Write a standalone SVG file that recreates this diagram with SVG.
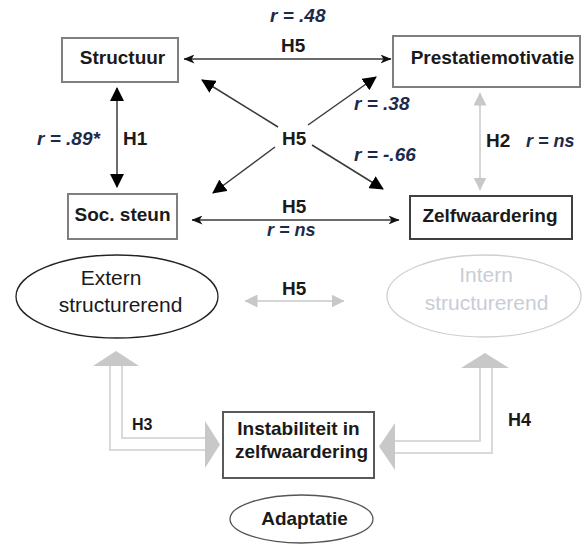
<svg xmlns="http://www.w3.org/2000/svg" width="582" height="544" viewBox="0 0 582 544">
<style>
.lbl{font-family:"Liberation Sans",Arial,sans-serif;font-weight:bold;font-size:19px;fill:#1a1a1a;text-anchor:middle}
.h{font-family:"Liberation Sans",Arial,sans-serif;font-weight:bold;font-size:19px;fill:#1a1a1a}
.r{font-family:"Liberation Sans",Arial,sans-serif;font-weight:bold;font-style:italic;font-size:19px;fill:#1c2a4a}
.reg{font-family:"Liberation Sans",Arial,sans-serif;font-size:21px;text-anchor:middle}
.box{fill:#fff;stroke:#7f7f7f;stroke-width:2}
.ln{stroke:#3a3a3a;stroke-width:1.5;fill:none}
.gln{stroke:#c8c8c8;stroke-width:1.5;fill:none}
.blk{stroke:#d9d9d9;stroke-width:2;fill:none}
.bhd{fill:#c8c8c8}
</style>
<defs>
<marker id="big" viewBox="0 0 14 14" refX="13" refY="7" markerWidth="14" markerHeight="14" orient="auto-start-reverse" markerUnits="userSpaceOnUse"><path d="M0,0 L14,7 L0,14 z" fill="#000"/></marker>
<marker id="sm" viewBox="0 0 11 9" refX="10.5" refY="4.5" markerWidth="11" markerHeight="9" orient="auto-start-reverse" markerUnits="userSpaceOnUse"><path d="M0,0 L11,4.5 L0,9 L3,4.5 z" fill="#111"/></marker>
<marker id="gr" viewBox="0 0 13 13" refX="12.5" refY="6.5" markerWidth="13" markerHeight="13" orient="auto-start-reverse" markerUnits="userSpaceOnUse"><path d="M0,0 L13,6.5 L0,13 z" fill="#c8c8c8"/></marker>
</defs>

<g id="connectors">
<line class="ln" x1="184" y1="59" x2="391" y2="59" marker-start="url(#sm)" marker-end="url(#sm)"/>
<line class="ln" x1="117" y1="88" x2="117" y2="187" marker-start="url(#big)" marker-end="url(#big)"/>
<line class="ln" x1="192" y1="220" x2="399" y2="220" marker-start="url(#sm)" marker-end="url(#sm)"/>
<line class="ln" stroke="#555" x1="278" y1="127" x2="202" y2="80" marker-end="url(#big)"/>
<line class="ln" stroke="#555" x1="275" y1="147" x2="213" y2="193" marker-end="url(#big)"/>
<line class="ln" stroke="#555" x1="308" y1="125" x2="376" y2="77" marker-end="url(#big)"/>
<line class="ln" stroke="#555" x1="312" y1="145" x2="383" y2="189" marker-end="url(#big)"/>
<line class="gln" x1="480" y1="93" x2="480" y2="190" marker-start="url(#gr)" marker-end="url(#gr)"/>
<line class="gln" x1="245" y1="301" x2="344" y2="301" marker-start="url(#gr)" marker-end="url(#gr)"/>
<g id="h3-arrow">
<path class="blk" d="M110,366 L110,450 L205,450 M122,366 L122,438 L205,438"/>
<polygon class="bhd" points="93,366 139,366 116,351"/>
<polygon class="bhd" points="205,421 205,468 220,444.5"/>
</g>
<g id="h4-arrow">
<path class="blk" d="M492,368 L492,453 L395,453 M480,368 L480,441 L395,441"/>
<polygon class="bhd" points="461,368 509,368 485,353"/>
<polygon class="bhd" points="395,423 395,470 379,446.5"/>
</g>
</g>

<g id="labels">
<text class="r" x="270" y="22">r = .48</text>
<text class="h" x="281" y="52">H5</text>
<text class="r" x="37" y="145">r = .89*</text>
<text class="h" x="123" y="145">H1</text>
<text class="r" x="354" y="110">r = .38</text>
<text class="h" x="282" y="145">H5</text>
<text class="r" x="354" y="161">r = -.66</text>
<text class="h" x="486" y="147">H2</text>
<text class="r" x="526" y="147" style="font-size:18px">r = ns</text>
<text class="h" x="282" y="213">H5</text>
<text class="r" x="267" y="236" style="font-size:18px">r = ns</text>
<text class="h" x="282" y="295">H5</text>
<text class="h" x="132" y="430" style="font-size:16px">H3</text>
<text class="h" x="508" y="426" style="font-size:18px">H4</text>
</g>

<g id="structuur">
<rect class="box" x="62" y="38" width="116" height="44"/>
<text class="lbl" x="122.5" y="64">Structuur</text>
</g>
<g id="prestatiemotivatie">
<rect class="box" x="393" y="36" width="187" height="51"/>
<text class="lbl" x="492.5" y="64">Prestatiemotivatie</text>
</g>
<g id="soc-steun">
<rect class="box" x="68" y="194" width="109" height="45"/>
<text class="lbl" x="122.5" y="221">Soc. steun</text>
</g>
<g id="zelfwaardering">
<rect class="box" x="410" y="196" width="162" height="43" style="stroke:#404040"/>
<text class="lbl" x="490" y="222">Zelfwaardering</text>
</g>
<g id="extern">
<ellipse cx="117" cy="296.5" rx="101" ry="41.5" fill="#fff" stroke="#222" stroke-width="1.3"/>
<text class="reg" x="111" y="285" fill="#1a1a1a">Extern</text>
<text class="reg" x="120.5" y="312" fill="#1a1a1a">structurerend</text>
</g>
<g id="intern">
<ellipse cx="484" cy="296" rx="97" ry="41" fill="#fff" stroke="#cfcfcf" stroke-width="1.3"/>
<text class="reg" x="486" y="282" fill="#c9cdd6">Intern</text>
<text class="reg" x="486.5" y="310" fill="#c9cdd6">structurerend</text>
</g>
<g id="instabiliteit">
<rect class="box" x="223" y="412" width="151" height="66" style="stroke:#595959"/>
<text class="lbl" x="298.5" y="435">Instabiliteit in</text>
<text class="lbl" x="301.5" y="458">zelfwaardering</text>
</g>
<g id="adaptatie">
<ellipse cx="301.5" cy="519" rx="71.5" ry="24" fill="#fff" stroke="#555" stroke-width="1.3"/>
<text class="lbl" x="304.5" y="525">Adaptatie</text>
</g>
</svg>
